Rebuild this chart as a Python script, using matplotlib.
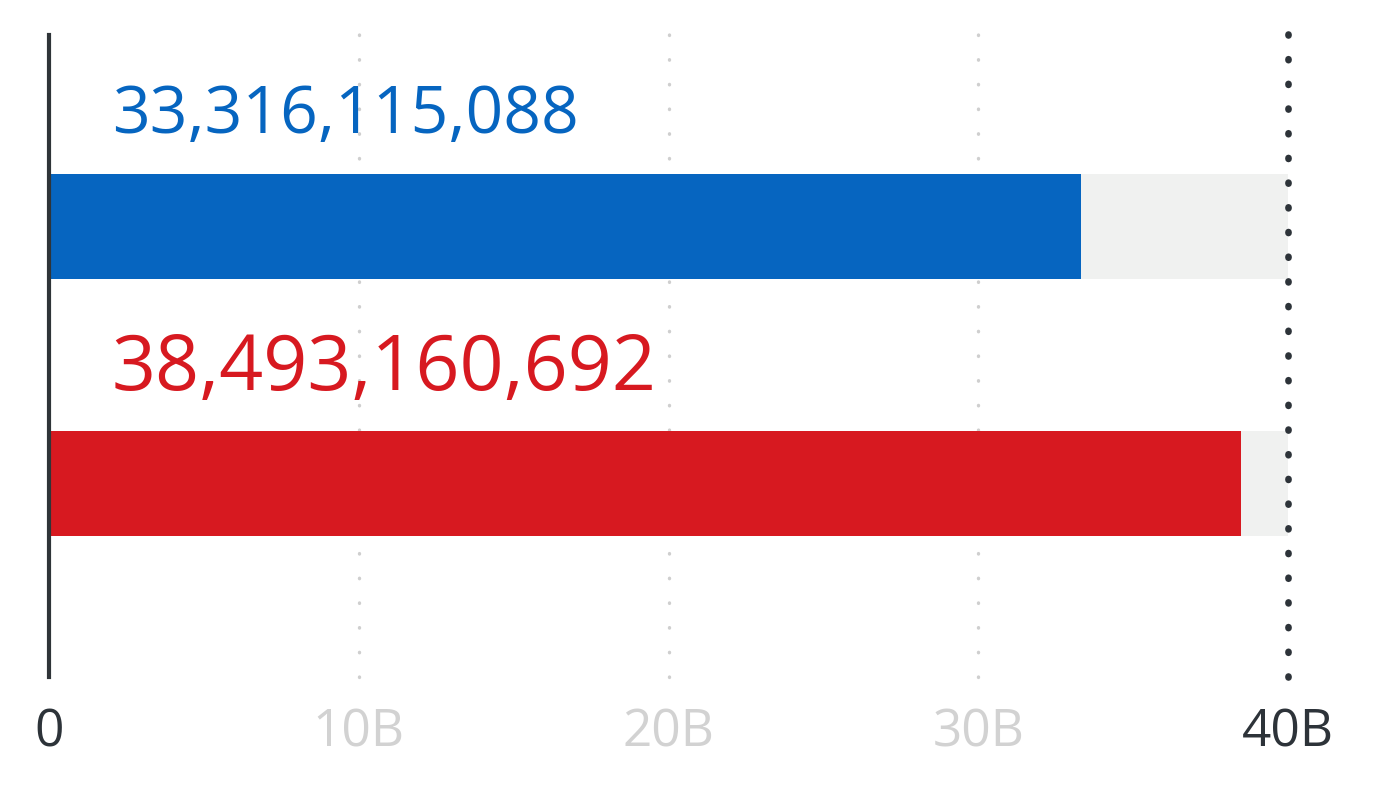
import matplotlib.pyplot as plt
from matplotlib.ticker import FixedLocator

values = [33316115088, 38493160692]
labels = ['33,316,115,088', '38,493,160,692']
colors = ['#0665c0', '#d71920']
label_sizes = [47.5, 55.5]
max_val = 40e9
ticks = [0, 10e9, 20e9, 30e9, 40e9]
tick_labels = ['0', '10B', '20B', '30B', '40B']
tick_colors = ['#2d3339', '#d2d2d2', '#d2d2d2', '#d2d2d2', '#2d3339']

W, H = 1394, 800
fig = plt.figure(figsize=(W / 100, H / 100), dpi=100)
ax = fig.add_axes([49 / W, 1 - 677 / H, (1288 - 49) / W, (677 - 35) / H])

plt.rcParams['font.family'] = ['Open Sans', 'DejaVu Sans']

pos = [0, 1]
bar_h = 105 / 257
ax.barh(pos, [max_val] * 2, height=bar_h, color='#f0f1f0', zorder=1)
ax.barh(pos, values, height=bar_h, color=colors, zorder=2)

for p, lab, c, fs in zip(pos, labels, colors, label_sizes):
    ax.text(2.03e9, p - bar_h / 2 - 0.16, lab, color=c, fontsize=fs,
            va='baseline', ha='left', family=['Open Sans', 'DejaVu Sans'])

# dotted gridlines (dot every ~24.7 px)
step_pt = 642 / 26 * 0.72
for t in ticks[1:-1]:
    lw = 2.4
    ax.axvline(t, ymax=1.008, color='#cfcfcf', lw=lw,
               linestyle=(0, (0.15, step_pt / lw - 0.15)),
               dash_capstyle='round', zorder=0, clip_on=False)
lw = 4.8
ax.axvline(max_val, ymax=1.008, color='#2d3339', lw=lw,
           linestyle=(0, (0.15, step_pt / lw - 0.15)),
           dash_capstyle='round', zorder=3, clip_on=False)

ax.set_xlim(0, max_val)
ax.set_ylim(1.753, -0.745)
ax.set_yticks([])
for s in ['top', 'right', 'bottom']:
    ax.spines[s].set_visible(False)
ax.spines['left'].set_color('#2f3438')
ax.spines['left'].set_linewidth(3)
ax.spines['left'].set_zorder(4)

ax.xaxis.set_major_locator(FixedLocator(ticks))
ax.set_xticklabels(tick_labels, fontsize=37, family=['Open Sans', 'DejaVu Sans'])
ax.tick_params(axis='x', length=0, pad=22)
for tl, c in zip(ax.get_xticklabels(), tick_colors):
    tl.set_color(c)

fig.savefig('out.png', dpi=100)
